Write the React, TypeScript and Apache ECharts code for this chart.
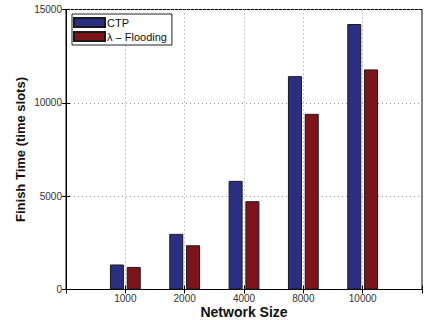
import React, { useEffect, useRef } from "react";
import * as echarts from "echarts";

const categories = ["1000", "2000", "4000", "8000", "10000"];
const ctpValues = [1340, 2980, 5820, 11430, 14220];
const floodingValues = [1210, 2370, 4730, 9410, 11790];
const seriesNames = ["CTP", "λ – Flooding"];
const yTicks = [0, 5000, 10000, 15000];

const FONT = "Liberation Sans, Arial, Helvetica, sans-serif";

export default function App() {
  const ref = useRef<HTMLDivElement>(null);
  useEffect(() => {
    if (!ref.current) return;
    const chart = echarts.init(ref.current, null, { renderer: "svg" });
    const labelFmt = (v: number) => categories[v - 1] ?? "";
    const option: any = {
      animation: false,
      backgroundColor: "#fff",
      grid: {
        left: 66,
        top: 9.5,
        right: 12,
        bottom: 30.5,
        show: true,
        borderColor: "#000",
        borderWidth: 1,
        backgroundColor: "transparent",
        containLabel: false,
        outerBoundsMode: "none",
      },
      legend: {
        orient: "vertical",
        left: 72,
        top: 14,
        itemWidth: 31,
        itemHeight: 9,
        itemGap: 3,
        padding: [3, 5, 3, 1],
        borderColor: "#222",
        borderWidth: 1,
        backgroundColor: "#fff",
        icon: "rect",
        textStyle: { fontFamily: FONT, fontSize: 11, color: "#111", padding: [0, 0, 0, -3] },
        data: seriesNames,
      },
      xAxis: [
        {
          type: "value",
          min: 0,
          max: 6,
          interval: 1,
          position: "bottom",
          axisLine: { show: true, lineStyle: { color: "#000", width: 1 } },
          axisTick: { show: true, inside: true, length: 4, lineStyle: { color: "#000" } },
          axisLabel: {
            formatter: labelFmt,
            fontFamily: FONT,
            fontSize: 10,
            color: "#333",
            margin: 4,
          },
          splitLine: { show: true, lineStyle: { color: "#999", type: [1, 3], width: 1 } },
          name: "Network Size",
          nameLocation: "middle",
          nameGap: 15,
          nameMoveOverlap: false,
          nameTextStyle: { fontFamily: FONT, fontSize: 14, fontWeight: "bold", color: "#111" },
        },
        {
          type: "value",
          min: 0,
          max: 6,
          interval: 1,
          position: "top",
          axisLine: { show: true, lineStyle: { color: "#000", width: 1 } },
          axisTick: { show: true, inside: true, length: 4, lineStyle: { color: "#000" } },
          axisLabel: { show: false },
          splitLine: { show: false },
        },
      ],
      yAxis: [
        {
          type: "value",
          min: 0,
          max: 15000,
          interval: 5000,
          position: "left",
          axisLine: { show: true, lineStyle: { color: "#000", width: 1 } },
          axisTick: { show: true, inside: true, length: 4, lineStyle: { color: "#000" } },
          axisLabel: {
            fontFamily: FONT,
            fontSize: 10,
            color: "#333",
            margin: 4,
            formatter: (v: number) => (yTicks.includes(v) ? String(v) : ""),
          },
          splitLine: { show: true, lineStyle: { color: "#999", type: [1, 3], width: 1 } },
          name: "Finish Time (time slots)",
          nameLocation: "middle",
          nameGap: 39,
          nameMoveOverlap: false,
          nameTextStyle: { fontFamily: FONT, fontSize: 13, fontWeight: "bold", color: "#111" },
        },
        {
          type: "value",
          min: 0,
          max: 15000,
          interval: 5000,
          position: "right",
          axisLine: { show: true, lineStyle: { color: "#000", width: 1 } },
          axisTick: { show: true, inside: true, length: 4, lineStyle: { color: "#000" } },
          axisLabel: { show: false },
          splitLine: { show: false },
        },
      ],
      series: [
        {
          name: seriesNames[0],
          type: "bar",
          xAxisIndex: 0,
          yAxisIndex: 0,
          barWidth: 14,
          barGap: "20%",
          data: ctpValues.map((v, i) => [i + 1, v]),
          itemStyle: { color: "#2b2f84", borderColor: "#1a1a1a", borderWidth: 1 },
        },
        {
          name: seriesNames[1],
          type: "bar",
          xAxisIndex: 0,
          yAxisIndex: 0,
          barWidth: 14,
          barGap: "20%",
          data: floodingValues.map((v, i) => [i + 1, v]),
          itemStyle: { color: "#7d1419", borderColor: "#1a1a1a", borderWidth: 1 },
        },
      ],
    };
    chart.setOption(option);
    return () => chart.dispose();
  }, []);
  return <div ref={ref} style={{ width: 434, height: 320, position: "absolute", left: 0, top: 0 }} />;
}
